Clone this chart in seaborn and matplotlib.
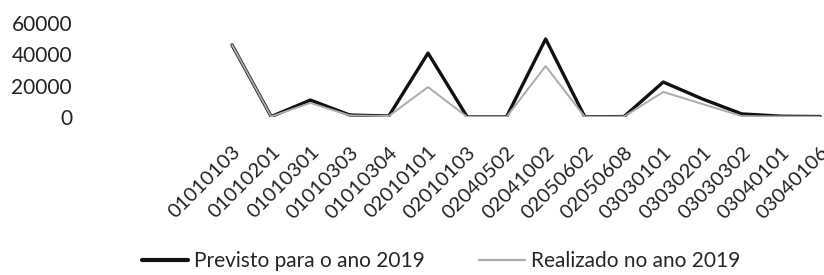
import pandas as pd
import matplotlib
matplotlib.use("Agg")
import matplotlib.pyplot as plt
import seaborn as sns

codigos = ["01010103", "01010201", "01010301", "01010303", "01010304",
           "02010101", "02010103", "02040502", "02041002", "02050602",
           "02050608", "03030101", "03030201", "03030302", "03040101",
           "03040106"]
previsto = [46000, 300, 10800, 1300, 600, 40800, 0, 0, 49800, 0,
            300, 22300, 11500, 2000, 500, 300]
realizado = [46000, 300, 9000, 1000, 600, 19100, 0, 0, 32500, 0,
             300, 16000, 8300, 600, 300, 200]
serie_prev = "Previsto para o ano 2019"
serie_real = "Realizado no ano 2019"
yticks = [0, 20000, 40000, 60000]

df = pd.DataFrame({
    "codigo": codigos * 2,
    "valor": previsto + realizado,
    "serie": [serie_prev] * len(codigos) + [serie_real] * len(codigos),
})

sns.set_theme(style="white")
plt.rcParams["font.family"] = ["Lato", "DejaVu Sans"]

fig = plt.figure(figsize=(8.24, 2.75), dpi=100)
ax = fig.add_axes([212.4 / 824, 1 - 117 / 275, (824 - 212.4) / 824, (117 - 23) / 275])

sns.lineplot(data=df, x="codigo", y="valor", hue="serie", sort=False,
             palette={serie_prev: "#111111", serie_real: "#ababab"},
             ax=ax, legend=True)
for line, lw in zip(ax.lines, [2.4, 1.4]):
    line.set_linewidth(lw)

ax.set_xlim(-0.5, 15.1)
ax.set_ylim(0, 60000)
ax.set_yticks(yticks)
ax.set_yticklabels([str(v) for v in yticks])
ax.set_xlabel("")
ax.set_ylabel("")
sns.despine(ax=ax, left=True, bottom=True)
ax.tick_params(axis="y", length=0, pad=101, labelsize=15, colors="#222222")
ax.tick_params(axis="x", length=0, pad=19, labelsize=14.5, colors="#222222")
for lab in ax.get_yticklabels():
    lab.set_horizontalalignment("right")
for lab in ax.get_xticklabels():
    lab.set_rotation(45)
    lab.set_horizontalalignment("right")
    lab.set_verticalalignment("top")
    lab.set_rotation_mode("anchor")

handles, labels = ax.get_legend_handles_labels()
ax.legend(handles, labels, loc="center", bbox_to_anchor=(441 / 824, 14 / 275),
          bbox_transform=fig.transFigure, ncol=2, frameon=False, fontsize=15,
          handlelength=2.2, handletextpad=0.3, columnspacing=2.6)
for h, lw in zip(ax.get_legend().get_lines(), [3.0, 1.6]):
    h.set_linewidth(lw)

fig.savefig("out.png", dpi=100)
